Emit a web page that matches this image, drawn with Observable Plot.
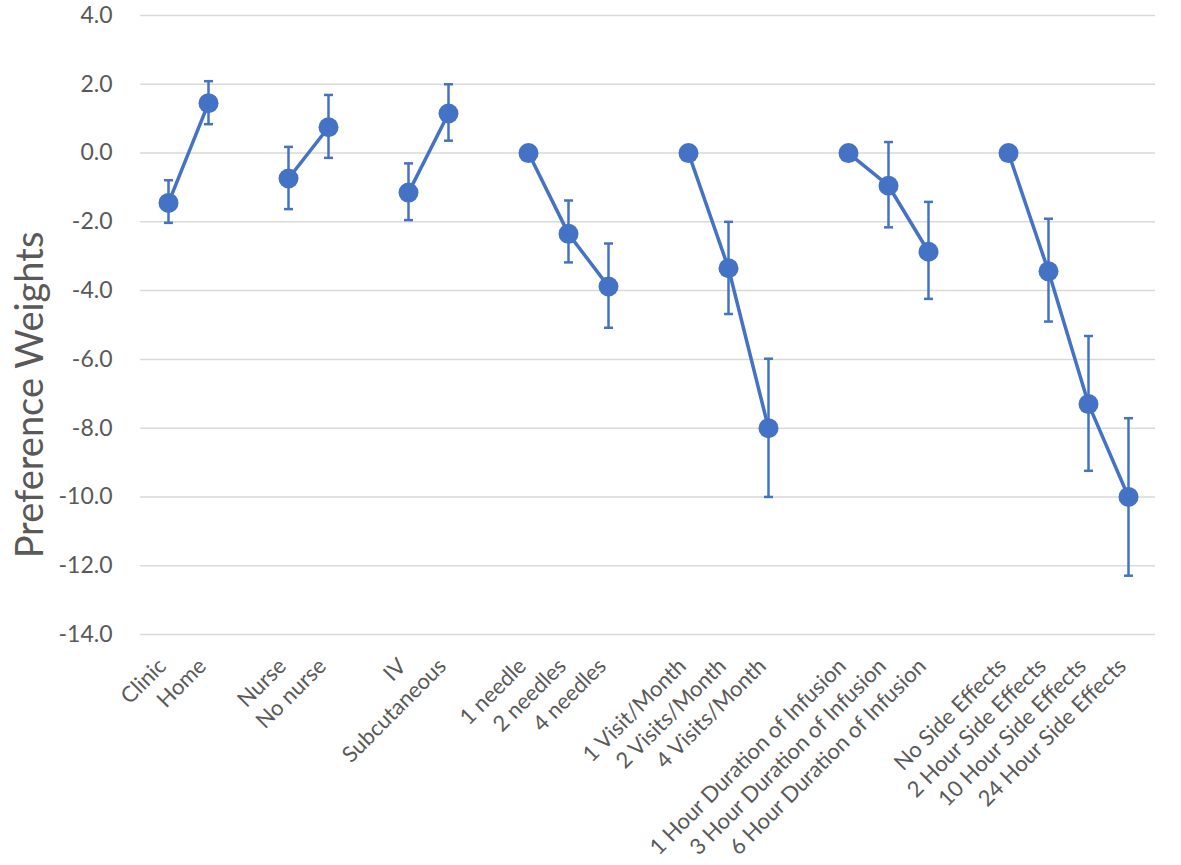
<!DOCTYPE html>
<html>
<head>
<meta charset="utf-8">
<script src="https://cdn.jsdelivr.net/npm/d3@7"></script>
<script src="https://cdn.jsdelivr.net/npm/@observablehq/plot@0.6"></script>
<style>
  html, body { margin: 0; padding: 0; background: #fff; }
  #chart svg { display: block; }
</style>
</head>
<body>
<div id="chart"></div>
<script>
// Attribute levels (x categories), grouped by attribute
const levels = [
  "Clinic", "Home",
  "Nurse", "No nurse",
  "IV", "Subcutaneous",
  "1 needle", "2 needles", "4 needles",
  "1 Visit/Month", "2 Visits/Month", "4 Visits/Month",
  "1 Hour Duration of Infusion", "3 Hour Duration of Infusion", "6 Hour Duration of Infusion",
  "No Side Effects", "2 Hour Side Effects", "10 Hour Side Effects", "24 Hour Side Effects"
];
const groups = [
  "Location", "Location",
  "Nurse", "Nurse",
  "Route", "Route",
  "Needles", "Needles", "Needles",
  "Visits", "Visits", "Visits",
  "Duration", "Duration", "Duration",
  "Side effects", "Side effects", "Side effects", "Side effects"
];
const weights = [
  -1.45, 1.45,
  -0.74, 0.75,
  -1.15, 1.15,
  0, -2.35, -3.88,
  0, -3.35, -8.0,
  0, -0.95, -2.87,
  0, -3.44, -7.3, -10.0
];
const lower = [
  -2.03, 0.84,
  -1.63, -0.14,
  -1.95, 0.36,
  null, -3.18, -5.08,
  null, -4.68, -10.0,
  null, -2.16, -4.24,
  null, -4.9, -9.24, -12.29
];
const upper = [
  -0.79, 2.09,
  0.18, 1.69,
  -0.30, 2.0,
  null, -1.38, -2.63,
  null, -2.0, -5.98,
  null, 0.32, -1.42,
  null, -1.91, -5.32, -7.71
];
const yTicks = [4, 2, 0, -2, -4, -6, -8, -10, -12, -14];

// Build x domain with one blank slot between attribute groups
const domain = [];
let gapCount = 0;
levels.forEach((l, i) => {
  if (i > 0 && groups[i] !== groups[i - 1]) domain.push("gap" + (++gapCount));
  domain.push(l);
});

const data = levels.map((l, i) => ({
  level: l, group: groups[i], w: weights[i], lo: lower[i], hi: upper[i]
}));
const errData = data.filter(d => d.lo != null);

const blue = "#4472C4";
const grey = "#595959";
const font = "Lato";

const capSymbol = {
  draw(ctx, size) {
    const r = Math.sqrt(size / Math.PI);
    ctx.moveTo(-r, 0);
    ctx.lineTo(r, 0);
  }
};

const chart = Plot.plot({
  width: 1181,
  height: 865,
  marginLeft: 140,
  marginRight: 26,
  marginTop: 15,
  marginBottom: 231,
  style: { fontFamily: font, fontSize: "19px", color: grey, background: "#fff" },
  x: { type: "point", domain, padding: 0.5 },
  y: { domain: [-14, 4] },
  marks: [
    Plot.gridY(yTicks, { stroke: "#d9d9d9", strokeOpacity: 1, strokeWidth: 1.5 }),
    Plot.axisY(yTicks, {
      tickSize: 0, tickPadding: 28, tickFormat: d => d.toFixed(1),
      label: null, fontSize: 23, fill: grey
    }),
    Plot.axisX({
      tickSize: 0, tickPadding: 22, tickRotate: -45, dx: -6, dy: 6,
      tickFormat: d => d.startsWith("gap") ? "" : d,
      label: null, fontSize: 22, fill: grey
    }),
    Plot.ruleX(errData, { x: "level", y1: "lo", y2: "hi", stroke: blue, strokeWidth: 2.5 }),
    Plot.dot(errData, { x: "level", y: "lo", symbol: capSymbol, r: 4.5, stroke: blue, strokeWidth: 2.5 }),
    Plot.dot(errData, { x: "level", y: "hi", symbol: capSymbol, r: 4.5, stroke: blue, strokeWidth: 2.5 }),
    Plot.line(data, { x: "level", y: "w", z: "group", stroke: blue, strokeWidth: 3.5 }),
    Plot.dot(data, { x: "level", y: "w", r: 10, fill: blue, stroke: "none" }),
    Plot.text(["Preference Weights"], {
      frameAnchor: "left", textAnchor: "middle", dx: -110, dy: 70, rotate: -90,
      fontSize: 38, fill: grey, fontFamily: font
    })
  ]
});
document.getElementById("chart").appendChild(chart);
</script>
</body>
</html>
